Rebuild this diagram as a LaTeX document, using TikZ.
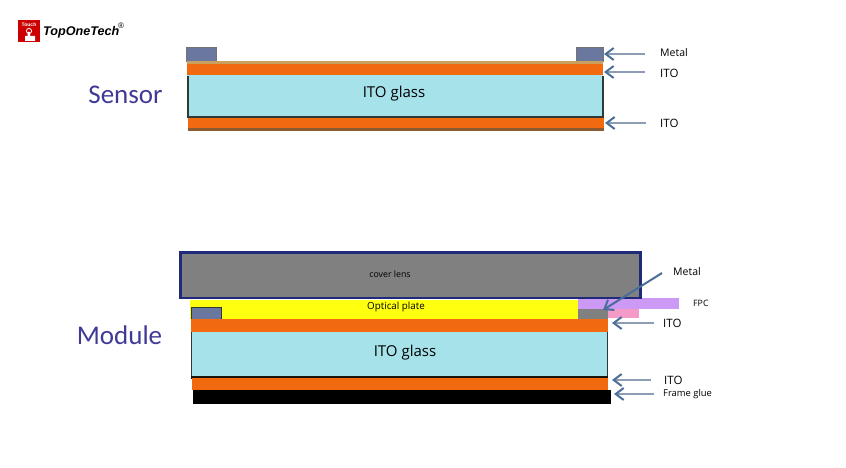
\documentclass[tikz,border=0pt]{standalone}
\usepackage{fontspec}
\setmainfont{Open Sans}
\newfontfamily\bigfont{Carlito}
\newfontfamily\logofont{Liberation Sans}
\usetikzlibrary{arrows.meta}
\definecolor{ito}{HTML}{F26A10}
\definecolor{glass}{HTML}{A6E2EA}
\definecolor{metalc}{HTML}{6A78A0}
\definecolor{lens}{HTML}{808080}
\definecolor{navy}{HTML}{1F2A78}
\definecolor{optic}{HTML}{FFFF10}
\definecolor{fpc}{HTML}{CC99F5}
\definecolor{pinkc}{HTML}{F49AC8}
\definecolor{indigo}{HTML}{3F3A96}
\definecolor{arrowc}{HTML}{8C9DB5}
\definecolor{tipc}{HTML}{4A6E9A}
\definecolor{edgec}{HTML}{2E3A38}
\definecolor{tan}{HTML}{C8A060}
\definecolor{brownc}{HTML}{8A5A30}
\tikzset{
  x=1pt,y=-1pt,
  call/.style={draw=arrowc,line width=2.6pt,-{Straight Barb[length=8pt,width=12pt,line width=2pt,color=tipc]}},
  lbl/.style={inner sep=0pt,anchor=west,font=\fontsize{11.5}{13}\selectfont,text=black},
  small/.style={lbl,font=\fontsize{10.5}{12}\selectfont},
  tiny/.style={inner sep=0pt,font=\fontsize{8.8}{10}\selectfont,text=black},
  glasslbl/.style={inner sep=0pt,font=\fontsize{15}{18}\selectfont,text=black},
  title/.style={inner sep=0pt,font=\bigfont\fontsize{27}{32}\selectfont,text=indigo}
}
\begin{document}
\begin{tikzpicture}
\useasboundingbox (0,0) rectangle (846,468);
% logo
\fill[red!80!black] (18,20) rectangle (40,42);
\node[inner sep=0pt,text=white] (logotouch) at (29,25) {\logofont\bfseries\fontsize{5}{5}\selectfont Touch};
\draw[white,line width=.8pt] (29,31) circle (2.6);
\fill[white] (27.5,32) rectangle (30,38) (25,36) rectangle (35,41);
\node[inner sep=0pt,anchor=west] (logotext) at (43,32) {\logofont\bfseries\itshape\fontsize{12.6}{14}\selectfont TopOneTech};
\node[inner sep=0pt] (logoreg) at (121,26) {\logofont\fontsize{8}{9}\selectfont\textregistered};
% sensor
\fill[metalc,draw=black!55,line width=.6pt] (186,47) rectangle (216,61);
\fill[metalc,draw=black!55,line width=.6pt] (576,47) rectangle (603,61);
\fill[ito] (187,61) rectangle (603,75);
\fill[tan] (187,61) rectangle (603,64);
\fill[glass] (187,75) rectangle (603,118);
\draw[edgec,line width=2pt] (187.500,76) -- (187.500,117) -- (602.500,117) -- (602.500,76);
\fill[ito] (188,118) rectangle (604,131);
\fill[brownc] (188,128.500) rectangle (604,131);
\node[glasslbl] (g1) at (394,93.500) {ITO glass};
\node[title] (sensor) at (125.500,94.500) {Sensor};
% module
\fill[fpc] (578,298) rectangle (679,309);
\fill[pinkc] (608,309) rectangle (639,318);
\fill[optic] (190,300) rectangle (578,319);
\fill[lens,draw=navy,line width=2.200pt] (180.500,252.500) rectangle (640.500,298);
\fill[metalc,draw=edgec,line width=.8pt] (191,307) rectangle (221,319);
\fill[lens] (578,309) rectangle (608,319);
\fill[ito] (191,319) rectangle (608,332);
\fill[glass] (191,332) rectangle (608,376);
\draw[edgec,line width=1.200pt] (191.500,332) -- (191.500,376) (607.500,332) -- (607.500,376);
\fill[black!85!brown] (191,375.500) rectangle (608,378.500);
\fill[ito] (192,378) rectangle (608,390);
\fill[black] (193,390) rectangle (611,403.500);
\node[tiny] (lensl) at (390,274.500) {cover lens};
\node[tiny,font=\fontsize{9.8}{11}\selectfont] (optl) at (396,306.500) {Optical plate};
\node[glasslbl] (g2) at (405,352.500) {ITO glass};
\node[title] (module) at (119.500,335.500) {Module};
% labels
\node[small] (m1) at (660,52.500) {Metal};
\node[lbl] (i1) at (660,73) {ITO};
\node[lbl] (i2) at (660,123.500) {ITO};
\node[small] (m2) at (673,271.500) {Metal};
\node[tiny,anchor=west] (f) at (693,303.500) {FPC};
\node[lbl] (i3) at (663,323.500) {ITO};
\node[lbl] (i4) at (664,380.500) {ITO};
\node[tiny,anchor=west,font=\fontsize{9.400}{11}\selectfont] (fg) at (663,394.500) {Frame glue};
% arrow ends
\coordinate (a1) at (604,54);
\coordinate (a2) at (604,72);
\coordinate (a3) at (605,123);
\coordinate (a4) at (603,310);
\coordinate (a5) at (612,323);
\coordinate (a6) at (612,380);
\coordinate (a7) at (614,394);
\draw[call] (m1.west) ++(-15,1.500) -- (a1);
\draw[call] (i1.west) ++(-15,-1) -- (a2);
\draw[call] (i2.west) ++(-14,-.500) -- (a3);
\draw[call,draw=tipc,line width=2pt] (m2.west) ++(-11,1.500) -- (a4);
\draw[call] (i3.west) ++(-9,-.500) -- (a5);
\draw[call] (i4.west) ++(-13,-.500) -- (a6);
\draw[call] (fg.west) ++(-9,-.500) -- (a7);
\end{tikzpicture}
\end{document}
